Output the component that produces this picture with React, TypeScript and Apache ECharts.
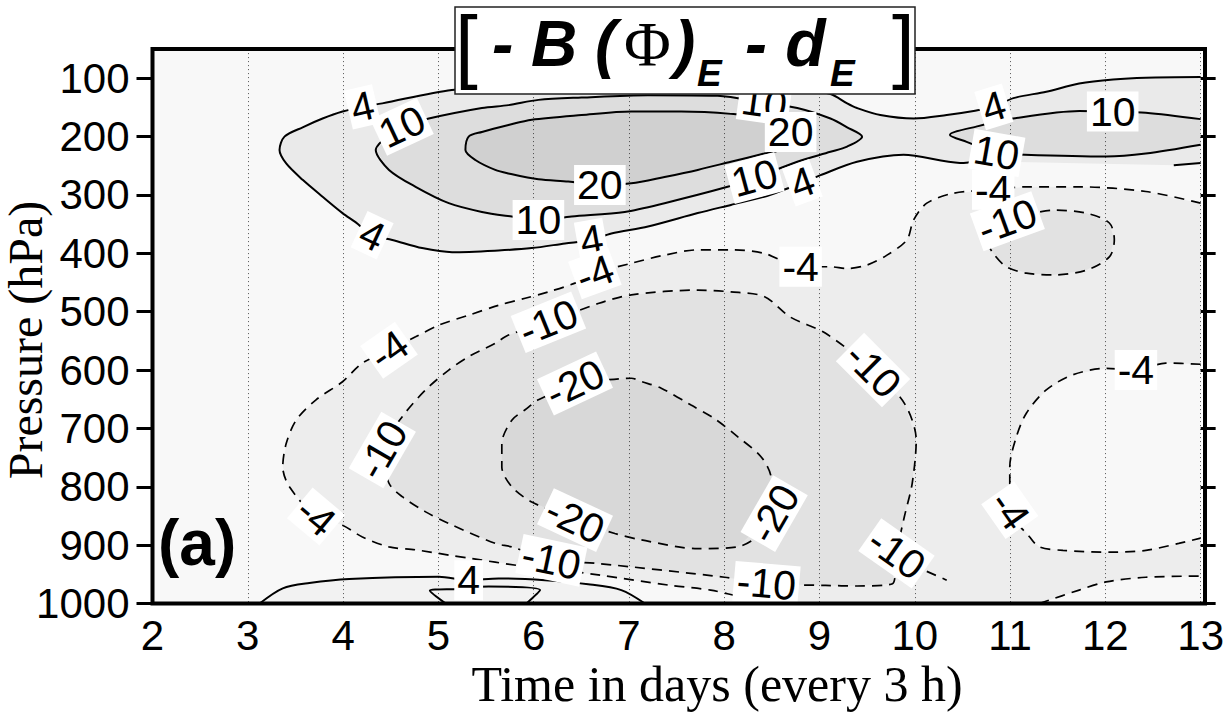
import React, { useEffect, useRef } from 'react';
import * as echarts from 'echarts';

type Pt = [number, number];

// ---------- axes ----------
const DAY_MIN = 2;
const DAY_MAX = 13;
const P_TOP = 50;
const P_BOTTOM = 1000;
const PRESSURE_TICKS = [100, 200, 300, 400, 500, 600, 700, 800, 900, 1000];

// ---------- contour lines [day, hPa] ----------
// +4 (upper band, from right edge round the left tip and back)
const C4_MAIN: Pt[] = [
  [13.0, 98], [12.425, 99], [12.081, 102], [11.725, 109], [11.38, 123], [11.035, 134], [10.83, 149],
  [10.617, 156], [10.335, 163], [9.99, 169], [9.638, 163], [9.394, 151], [9.29, 143], [9.115, 127],
  [8.767, 117], [7.722, 111], [6.677, 113], [5.632, 117], [5.141, 120], [4.412, 143], [4.203, 149],
  [3.994, 157], [3.785, 169], [3.576, 184], [3.385, 200], [3.333, 223], [3.403, 246], [3.576, 274],
  [3.785, 303], [3.994, 331], [4.134, 347], [4.305, 369], [4.517, 377], [4.83, 391], [5.144, 398],
  [5.632, 395], [5.98, 391], [6.329, 383], [6.607, 377], [6.816, 366], [7.2, 354], [7.722, 331],
  [8.07, 317], [8.419, 303], [8.628, 291], [8.82, 279], [9.011, 266], [9.394, 243], [9.882, 231],
  [10.474, 245], [10.7, 242],
];
const C4_TAIL: Pt[] = [[12.718, 249], [13.0, 245]];
// +10 left (closed)
const C10_LEFT: Pt[] = [
  [4.618, 183], [4.9, 169], [5.457, 151], [5.736, 146], [6.05, 137], [6.503, 133], [7.2, 129],
  [7.931, 130], [8.419, 142], [8.767, 151], [9.115, 169], [9.29, 184], [9.447, 200], [9.29, 217],
  [9.115, 226], [8.767, 243], [8.318, 271], [8.036, 286], [7.374, 314], [6.956, 329], [6.398, 337],
  [6.05, 343], [5.771, 337], [5.457, 329], [5.109, 314], [4.761, 286], [4.482, 257], [4.343, 223],
];
// +20 (closed)
const C20: Pt[] = [
  [8.697, 192], [8.419, 169], [8.07, 161], [7.548, 157], [7.025, 157], [6.503, 163], [5.98, 171],
  [5.736, 180], [5.457, 192], [5.318, 200], [5.284, 223], [5.388, 240], [5.597, 257], [5.736, 263],
  [6.05, 273], [6.364, 277], [6.695, 283], [7.025, 280], [7.374, 269], [7.722, 257], [8.07, 243],
  [8.419, 229], [8.628, 220],
];
// +10 right (open to the right edge)
const C10_RIGHT: Pt[] = [
  [13.0, 170], [12.425, 159], [12.077, 157], [11.728, 156], [11.032, 169], [10.666, 182], [10.369, 197],
  [10.544, 209], [10.858, 228], [11.153, 231], [12.007, 234], [12.425, 229], [13.0, 214],
];
// +4 near the ground
const C4_BOTTOM: Pt[] = [
  [3.124, 1000], [3.367, 974], [3.646, 965], [4.064, 958], [5.005, 954], [5.318, 960], [5.632, 957],
  [6.12, 960], [6.573, 967], [6.92, 977], [7.168, 1000],
];
const C4_INNER: Pt[] = [[5.078, 1000], [4.911, 978], [5.2, 975], [5.527, 971], [6.068, 977], [5.925, 1000]];
// -4 outer
const CN4_MAIN: Pt[] = [
  [13.0, 314], [12.425, 294], [11.728, 286], [11.171, 286], [10.823, 291], [10.405, 297], [10.126, 314],
  [9.987, 343], [9.917, 377], [9.708, 403], [9.499, 420], [9.29, 426], [9.115, 423], [8.802, 423],
  [8.419, 400], [8.07, 394], [7.722, 394], [7.374, 403], [7.025, 417], [6.643, 434], [6.434, 451],
  [6.154, 466], [5.911, 477], [5.632, 489], [5.318, 506], [5.005, 523], [4.761, 543], [4.482, 566],
  [4.203, 588], [3.994, 620], [3.716, 651], [3.507, 686], [3.403, 726], [3.367, 766], [3.437, 800],
  [3.716, 851], [3.994, 866], [4.203, 886], [4.482, 903], [4.761, 908], [5.109, 917], [5.353, 923],
  [5.841, 935], [6.259, 942], [6.677, 951], [7.44, 969], [7.858, 977], [8.193, 989], [8.59, 998],
  [8.715, 1000],
];
const CN4_TAIL: Pt[] = [[11.307, 1000], [11.725, 977], [12.007, 963], [12.425, 955], [13.0, 953]];
// -4 right (C-shape from the right edge)
const CN4_RIGHT: Pt[] = [
  [13.0, 590], [12.634, 588], [12.321, 600], [12.007, 597], [11.659, 608], [11.38, 634], [11.171, 674],
  [11.067, 714], [10.997, 766], [10.997, 840], [11.206, 886], [11.307, 903], [11.555, 909], [12.077, 912],
  [12.425, 909], [12.77, 897], [13.0, 888],
];
// -10 ring (closed)
const CN10_RING: Pt[] = [
  [6.155, 518], [6.677, 486], [7.025, 471], [7.722, 463], [8.07, 466], [8.419, 474], [8.692, 509],
  [9.064, 537], [9.562, 600], [9.891, 657], [10.015, 720], [9.973, 794], [9.891, 851], [9.808, 914],
  [9.766, 966], [9.394, 970], [9.064, 969], [8.443, 966], [8.004, 955], [6.646, 931], [6.186, 926],
  [5.771, 903], [5.597, 897], [5.109, 863], [4.866, 843], [4.621, 817], [4.482, 794], [4.412, 737],
  [4.621, 680], [4.866, 634], [5.109, 600], [5.318, 577], [5.597, 554], [5.736, 540],
];
const CN10_STUB: Pt[] = [[10.126, 945], [10.335, 960]];
// -10 small (upper right, closed)
const CN10_SMALL: Pt[] = [
  [10.972, 345], [11.45, 326], [11.798, 331], [12.042, 348], [12.094, 377], [12.042, 406], [11.798, 429],
  [11.45, 437], [11.171, 434], [10.962, 423], [10.823, 400], [10.753, 377],
];
// -20 (closed)
const CN20: Pt[] = [
  [6.434, 623], [7.025, 614], [7.137, 620], [7.339, 631], [7.652, 660], [7.897, 683], [8.14, 714],
  [8.384, 748], [8.488, 780], [8.524, 846], [8.14, 903], [7.722, 906], [7.13, 891], [6.852, 880],
  [6.434, 857], [5.98, 826], [5.771, 800], [5.666, 766], [5.666, 726], [5.771, 686], [5.911, 668],
  [6.05, 651],
];

// ---------- contour labels ----------
const LABEL_TEXT = ['4', '4', '4', '4', '4', '4', '10', '10', '10', '10', '10', '10', '20', '20',
  '-4', '-4', '-4', '-4', '-4', '-4', '-4', '-10', '-10', '-10', '-10', '-10', '-10', '-10', '-20', '-20', '-20'];
const LABEL_DAY = [10.83, 4.203, 4.305, 6.607, 8.82, 5.318, 4.618, 8.419, 8.318, 6.05, 12.077, 10.858, 8.697, 6.695,
  10.823, 8.802, 6.643, 4.482, 3.716, 12.321, 10.997, 6.155, 9.562, 9.808, 8.443, 6.186, 4.412, 10.972, 6.434, 8.524, 6.434];
const LABEL_P = [149, 149, 369, 377, 279, 960, 183, 142, 271, 343, 157, 228, 192, 283,
  291, 423, 434, 566, 851, 600, 840, 518, 600, 914, 966, 926, 737, 345, 623, 846, 857];
const LABEL_ROT = [17, 13, -25, 10, 20, 0, 25, -8, 15, 0, 0, -10, 0, 0,
  0, 0, 20, 35, -40, 0, -55, 22, -45, -35, -5, -12, 60, 20, 25, 60, -25];

// ---------- layout ----------
const GRID = { left: 152.5, top: 49.1, right: 22, bottom: 113.5 };
const W = 1227;
const H = 717;

const POS = 'rgba(0,0,0,0.055)';
const NEG = 'rgba(0,0,0,0.045)';
const FILLS: { pts: Pt[]; color: string }[] = [
  { pts: [...C4_MAIN, ...C4_TAIL], color: POS },
  { pts: C10_LEFT, color: POS },
  { pts: C20, color: POS },
  { pts: C10_RIGHT, color: POS },
  { pts: C4_BOTTOM, color: 'rgba(0,0,0,0.025)' },
  { pts: [...CN4_MAIN, ...CN4_TAIL, ...[...CN4_RIGHT].reverse()], color: NEG },
  { pts: CN10_RING, color: NEG },
  { pts: CN10_SMALL, color: NEG },
  { pts: CN20, color: NEG },
];

function contour(pts: Pt[], dashed: boolean, closed: boolean) {
  return {
    type: 'line',
    data: closed ? [...pts, pts[0]] : pts,
    showSymbol: false,
    symbol: 'none',
    smooth: 0.3,
    silent: true,
    z: 3,
    lineStyle: {
      color: '#000',
      width: dashed ? 1.7 : 2,
      type: dashed ? [10, 7] : 'solid',
    },
  };
}

const SANS = 'Liberation Sans, Arial, Helvetica, sans-serif';
const SERIF = 'Liberation Serif, Times New Roman, serif';

export default function App() {
  const ref = useRef<HTMLDivElement>(null);

  useEffect(() => {
    if (!ref.current) return;
    const chart = echarts.init(ref.current, undefined, { renderer: 'svg' });
    const plotW = W - GRID.left - GRID.right;
    const plotH = H - GRID.top - GRID.bottom;

    const txt = (text: string, x: number, y: number, size: number, opts: any = {}) => ({
      type: 'text',
      x,
      y,
      z: 110,
      rotation: opts.rotation || 0,
      style: {
        text,
        fontSize: size,
        fontFamily: opts.family || SANS,
        fontWeight: opts.weight || 'normal',
        fontStyle: opts.style || 'normal',
        fill: '#000',
        textAlign: opts.align || 'left',
        align: opts.align || 'left',
        textVerticalAlign: 'middle',
        verticalAlign: 'middle',
      },
    });

    const option: any = {
      animation: false,
      backgroundColor: '#fff',
      grid: { ...GRID, show: true, backgroundColor: '#f8f8f8', borderWidth: 0 },
      xAxis: {
        type: 'value',
        min: DAY_MIN,
        max: DAY_MAX,
        interval: 1,
        axisLine: { show: false },
        axisTick: { show: false },
        axisLabel: { fontSize: 42, fontFamily: SANS, color: '#000', margin: 11 },
        splitLine: { show: true, lineStyle: { color: '#555', width: 1, type: [1, 3] } },
      },
      yAxis: [
        {
          type: 'value',
          inverse: true,
          min: P_TOP,
          max: P_BOTTOM,
          position: 'left',
          axisLine: { show: false },
          axisTick: { show: true, customValues: PRESSURE_TICKS, length: 16, lineStyle: { color: '#000', width: 3 } },
          axisLabel: {
            customValues: PRESSURE_TICKS,
            formatter: (v: number) => String(v),
            fontSize: 42,
            fontFamily: SANS,
            color: '#000',
            margin: 23,
          },
          splitLine: { show: false },
        },
        {
          type: 'value',
          inverse: true,
          min: P_TOP,
          max: P_BOTTOM,
          position: 'right',
          axisLine: { show: false },
          axisTick: { show: true, customValues: PRESSURE_TICKS, length: 15, lineStyle: { color: '#000', width: 3 } },
          axisLabel: { show: false },
          splitLine: { show: false },
        },
      ],
      series: [
        {
          type: 'custom',
          silent: true,
          clip: true,
          z: 1,
          data: FILLS.map((_, i) => [5, 500, i]),
          renderItem: (params: any, api: any) => {
            const f = FILLS[params.dataIndex];
            return {
              type: 'polygon',
              shape: { points: f.pts.map((p) => api.coord(p)) },
              style: { fill: f.color, stroke: 'none' },
            };
          },
        },
        contour(C4_MAIN, false, false),
        contour(C4_TAIL, false, false),
        contour(C10_LEFT, false, true),
        contour(C20, false, true),
        contour(C10_RIGHT, false, false),
        contour(C4_BOTTOM, false, false),
        contour(C4_INNER, false, false),
        contour(CN4_MAIN, true, false),
        contour(CN4_TAIL, true, false),
        contour(CN4_RIGHT, true, false),
        contour(CN10_RING, true, true),
        contour(CN10_STUB, true, false),
        contour(CN10_SMALL, true, true),
        contour(CN20, true, true),
        {
          type: 'scatter',
          symbol: 'rect',
          symbolSize: 1,
          silent: true,
          z: 5,
          itemStyle: { color: 'rgba(0,0,0,0)', opacity: 1 },
          data: LABEL_TEXT.map((t, i) => ({
            name: t,
            value: [LABEL_DAY[i], LABEL_P[i]],
            label: { rotate: LABEL_ROT[i] },
          })),
          label: {
            show: true,
            position: 'inside',
            formatter: (p: any) => p.name,
            fontSize: 41,
            fontFamily: SANS,
            color: '#000',
            opacity: 1,
            textBorderWidth: 0,
            textBorderColor: 'transparent',
            textShadowBlur: 0,
            backgroundColor: '#fff',
            padding: [0, 3],
            lineHeight: 40,
          },
        },
      ],
      graphic: [
        {
          type: 'rect',
          z: 50,
          silent: true,
          shape: { x: GRID.left, y: GRID.top, width: plotW, height: plotH },
          style: { fill: 'none', stroke: '#000', lineWidth: 4 },
        },
        {
          type: 'rect',
          z: 100,
          silent: true,
          shape: { x: 455, y: 7, width: 460, height: 87 },
          style: { fill: '#fff', stroke: '#222', lineWidth: 1.5 },
        },
        txt('[', 455, 44.6, 82),
        txt('- B (', 492, 43.8, 64, { weight: 'bold', style: 'italic' }),
        txt('\u03A6', 624, 44.4, 64, { family: SERIF }),
        txt(')', 674, 43.8, 64, { weight: 'bold', style: 'italic' }),
        txt('E', 697, 73, 37, { weight: 'bold', style: 'italic' }),
        txt('- d', 745, 43.1, 66, { weight: 'bold', style: 'italic' }),
        txt('E', 830, 73, 37, { weight: 'bold', style: 'italic' }),
        txt(']', 892, 44.6, 82),
        txt('(a)', 158, 542.8, 64, { weight: 'bold' }),
        txt('Time in days (every 3 h)', 717, 684, 50, { family: SERIF, align: 'center' }),
        txt('Pressure (hPa)', 25, 340, 48, { family: SERIF, align: 'center', rotation: Math.PI / 2 }),
      ],
    };

    chart.setOption(option);
    return () => chart.dispose();
  }, []);

  return <div ref={ref} style={{ position: 'absolute', left: 0, top: 0, width: W, height: H }} />;
}
